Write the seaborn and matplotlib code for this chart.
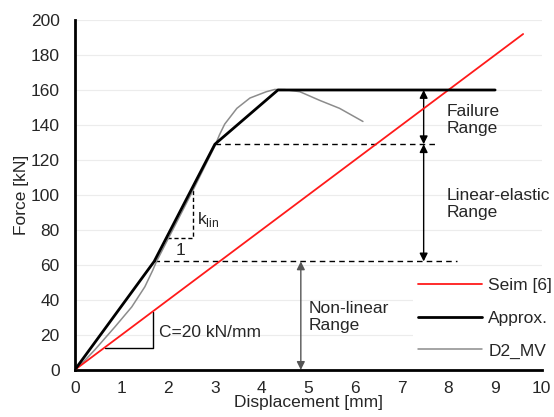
import pandas as pd
import numpy as np
import matplotlib
matplotlib.use('Agg')
import matplotlib.pyplot as plt
import seaborn as sns

# Seim [6] line, C = 20 kN/mm
seim_x = [0.0, 9.6]
seim_y = [0.0, 192.0]

# piecewise approximation
approx_x = [0.0, 1.7, 3.0, 4.35, 9.0]
approx_y = [0.0, 62.0, 129.0, 160.0, 160.0]

# measured curve D2_MV
d2_x = [0.0, 0.2, 0.43, 0.86, 1.22, 1.5, 1.67, 1.75, 2.0, 2.5, 3.0, 3.1, 3.21, 3.47, 3.75, 4.1, 4.28, 4.5, 4.82, 5.25, 5.67, 6.17]
d2_y = [0.0, 5.0, 11.5, 24.6, 36.0, 47.5, 57.0, 62.0, 75.0, 101.0, 128.0, 134.5, 140.5, 149.5, 155.4, 159.0, 160.3, 160.2, 159.0, 154.0, 149.5, 142.0]

# range levels
level_low = 62
level_mid = 129
level_top = 160

sns.set_style('white')
plt.rcParams['font.family'] = ['Liberation Sans', 'DejaVu Sans']
plt.rcParams['font.size'] = 12.5

fig = plt.figure(figsize=(5.54, 4.17), dpi=100)
ax = fig.add_axes([0.135, 0.113, 0.843, 0.839])

df_seim = pd.DataFrame({'x': seim_x, 'y': seim_y})
df_approx = pd.DataFrame({'x': approx_x, 'y': approx_y})
df_d2 = pd.DataFrame({'x': d2_x, 'y': d2_y})

sns.lineplot(data=df_seim, x='x', y='y', ax=ax, color='#ff1a1a', lw=1.3, label='Seim [6]', sort=False, zorder=4)
sns.lineplot(data=df_approx, x='x', y='y', ax=ax, color='black', lw=2.0, label='Approx.', sort=False, zorder=5)
sns.lineplot(data=df_d2, x='x', y='y', ax=ax, color='#8c8c8c', lw=1.1, label='D2_MV', sort=False, zorder=3)

# dashed range boundaries
ax.plot([1.7, 8.18], [level_low, level_low], color='black', lw=1.0, ls=(0, (4, 3)), zorder=2)
ax.plot([3.0, 7.77], [level_mid, level_mid], color='black', lw=1.0, ls=(0, (4, 3)), zorder=2)

# k_lin triangle
ax.plot([1.98, 2.53, 2.53], [75.6, 75.6, 103], color='black', lw=1.0, ls=(0, (3, 2)), zorder=2)
ax.text(2.27, 68.5, '1', ha='center', va='center')
ax.text(2.62, 86, r'k$_{\mathregular{lin}}$', ha='left', va='center')

# C triangle
ax.plot([0.64, 1.67, 1.67], [12.6, 12.6, 33.0], color='black', lw=1.0, zorder=2)
ax.text(1.8, 21.5, 'C=20 kN/mm', ha='left', va='center')

# range arrows
arr = dict(arrowstyle='<|-|>', color='black', lw=1.0, mutation_scale=12, shrinkA=0, shrinkB=0)
ax.annotate('', xy=(7.47, level_top), xytext=(7.47, level_mid), arrowprops=arr)
ax.annotate('', xy=(7.47, level_mid), xytext=(7.47, level_low), arrowprops=arr)
arr_g = dict(arr, color='#555555')
ax.annotate('', xy=(4.84, level_low), xytext=(4.84, 0), arrowprops=arr_g)

ax.text(7.97, 143, 'Failure\nRange', ha='left', va='center', linespacing=1.15)
ax.text(7.97, 95, 'Linear-elastic\nRange', ha='left', va='center', linespacing=1.15)
ax.text(5.0, 30, 'Non-linear\nRange', ha='left', va='center', linespacing=1.15)

ax.set_xlim(0, 10)
ax.set_ylim(0, 200)
ax.set_xticks(range(0, 11))
ax.set_yticks(range(0, 201, 20))
ax.yaxis.grid(True, color='#ececec', lw=0.8)
ax.set_axisbelow(True)
for s in ['top', 'right']:
    ax.spines[s].set_visible(False)
for s in ['left', 'bottom']:
    ax.spines[s].set_color('black')
    ax.spines[s].set_linewidth(2.0)
ax.tick_params(axis='both', direction='in', length=4, width=1.5, color='black', labelsize=12.5)
ax.tick_params(axis='x', pad=8)
ax.tick_params(axis='y', pad=11)
ax.set_xlabel('Displacement [mm]', labelpad=-1)
ax.set_ylabel('Force [kN]', labelpad=1)

leg = ax.legend(loc='upper left', bbox_to_anchor=(0.745, 0.345), bbox_transform=fig.transFigure,
                frameon=True, fancybox=False, handlelength=3.7, handletextpad=0.35,
                labelspacing=1.0, borderpad=0.3, borderaxespad=0)
leg.get_frame().set_facecolor('white')
leg.get_frame().set_edgecolor('none')
leg.get_frame().set_alpha(1)

fig.savefig('out.png', dpi=100)
